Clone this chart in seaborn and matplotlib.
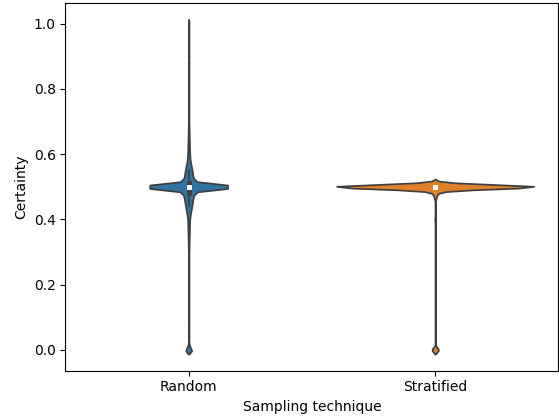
import numpy as np
import pandas as pd
import matplotlib
matplotlib.use('Agg')
import matplotlib.pyplot as plt
import seaborn as sns

techniques = ['Random', 'Stratified']

# Certainty values, with how many samples sit at each value
random_values = [0.00, 0.02, 0.04, 0.06, 0.08, 0.10, 0.12, 0.14, 0.16, 0.18, 0.20, 0.22, 0.24, 0.26, 0.28,
                 0.30, 0.31, 0.32, 0.33, 0.34, 0.35, 0.36, 0.37, 0.38, 0.39,
                 0.40, 0.41, 0.42, 0.43, 0.44, 0.45, 0.46, 0.47, 0.48, 0.49,
                 0.50,
                 0.51, 0.52, 0.53, 0.54, 0.55, 0.56, 0.57, 0.58, 0.59, 0.60,
                 0.61, 0.62, 0.63, 0.64, 0.65, 0.66, 0.67, 0.68, 0.69, 0.70,
                 0.72, 0.74, 0.76, 0.78, 0.80, 0.82, 0.84, 0.86, 0.88, 0.90, 0.92, 0.94, 0.96, 0.98, 1.00]
random_counts = [300, 30, 30, 30, 30, 30, 30, 30, 30, 30, 30, 30, 30, 30, 30,
                 18, 21, 24, 27, 30, 35, 40, 45, 50, 55,
                 60, 80, 110, 147, 180, 210, 235, 270, 330, 380,
                 4500,
                 370, 310, 250, 220, 205, 160, 120, 90, 70, 60,
                 55, 50, 45, 40, 35, 30, 27, 24, 21, 18,
                 30, 30, 30, 30, 30, 30, 30, 30, 30, 30, 30, 30, 30, 30, 30]

stratified_values = [0.00, 0.40, 0.46, 0.47, 0.48, 0.49, 0.50, 0.51]
stratified_counts = [300, 40, 20, 80, 140, 250, 9040, 150]

df = pd.DataFrame({
    'Sampling technique': ['Random'] * sum(random_counts) + ['Stratified'] * sum(stratified_counts),
    'Certainty': np.concatenate([np.repeat(random_values, random_counts),
                                 np.repeat(stratified_values, stratified_counts)]),
})


# same kernel width for both violins
def fixed_bw(kde):
    return 0.0065 / kde.dataset.std()


fig, ax = plt.subplots(figsize=(5.59, 4.18), dpi=100)
fig.subplots_adjust(left=0.117, right=0.999, bottom=0.113, top=0.9935)

sns.violinplot(data=df, x='Sampling technique', y='Certainty', hue='Sampling technique',
               order=techniques, bw_method=fixed_bw, common_norm=True,
               inner_kws={'box_width': 3.5, 'marker': 's'}, ax=ax)

plt.savefig('out.png', dpi=100)
